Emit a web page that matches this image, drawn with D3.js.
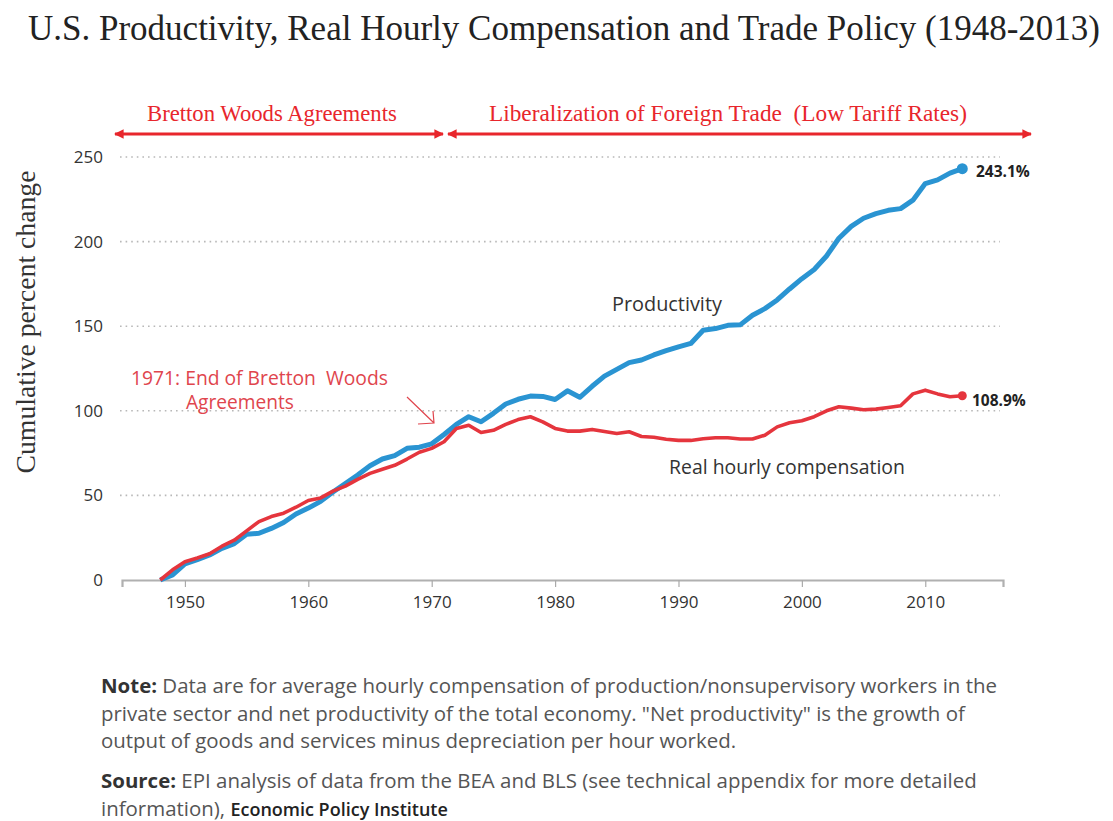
<!DOCTYPE html>
<html><head><meta charset="utf-8">
<script src="https://cdn.jsdelivr.net/npm/d3@7"></script>
<style>body{margin:0;background:#fff}svg{display:block}</style>
</head><body>
<svg id="c" width="1113" height="821"></svg>
<script>
const years = d3.range(1948, 2014);
const productivity = [0,3,9.5,12,14.8,18.7,21.5,27,27.6,30.5,34,39,42.5,46.5,52,57,62,67.5,71.5,73.5,77.8,78.5,80.5,86,92,96.5,
 93.5,98.5,104,106.8,108.7,108.5,106.7,111.8,108,114.5,120.5,124.5,128.5,130,133,135.5,137.8,139.8,147.6,148.6,150.5,150.8,
 156.5,160.4,165.5,172,178.1,183.5,191.5,202,209,213.8,216.5,218.5,219.5,224.5,234.3,236.5,240.5,243.1];
const compensation = [0,6,10.8,13,15.5,20,23.5,29,34.5,37.5,39.5,43,47,48.5,52.5,55.5,59.5,63,65.5,67.8,71.5,75.5,77.8,81.7,89.5,91.5,
 87.2,88.5,92,94.8,96.5,93.5,89.6,88,88,89,87.8,86.6,87.6,84.8,84.4,83.2,82.5,82.5,83.5,84.1,84.1,83.3,83.3,85.6,90.5,92.9,94.1,
 96.5,100,102.4,101.6,100.6,101,102,103,110,112.2,110,108.3,108.9];
const yTicks = [0,50,100,150,200,250];
const xTicks = [1950,1960,1970,1980,1990,2000,2010];
const endLabels = ["243.1%","108.9%"];

const svg = d3.select("#c");
const sans = "'Open Sans', 'Noto Sans', sans-serif";
const serif = "'Liberation Serif', 'DejaVu Serif', serif";

const x = d3.scaleLinear().domain([1944.9, 2016.3]).range([122, 1003]);
const y = d3.scaleLinear().domain([0, 250]).range([580, 157]);

function fit(sel, target) {
  const n = sel.node();
  const fs = parseFloat(sel.attr("font-size"));
  const w = n.getComputedTextLength();
  const nf = fs * target / w;
  sel.attr("font-size", nf.toFixed(2));
  return nf;
}

// Title
const title = svg.append("text").attr("x", 28).attr("y", 40).attr("font-family", serif)
  .attr("font-size", 30).attr("fill", "#222")
  .text("U.S. Productivity, Real Hourly Compensation and Trade Policy (1948-2013)");
fit(title, 1072);

// Red period annotations
const red = "#e8262c";
const defs = svg.append("defs");
["s","e"].forEach(k => {
  defs.append("marker").attr("id", "ah" + k).attr("viewBox", "0 0 10 10").attr("refX", 9).attr("refY", 5)
    .attr("markerWidth", 3.2).attr("markerHeight", 3.2).attr("orient", "auto-start-reverse")
    .append("path").attr("d", "M0,0L10,5L0,10z").attr("fill", red);
});
svg.append("line").attr("x1", 115).attr("x2", 443).attr("y1", 134).attr("y2", 134)
  .attr("stroke", red).attr("stroke-width", 3)
  .attr("marker-start", "url(#ahs)").attr("marker-end", "url(#ahe)");
svg.append("line").attr("x1", 448).attr("x2", 1031).attr("y1", 134).attr("y2", 134)
  .attr("stroke", red).attr("stroke-width", 3)
  .attr("marker-start", "url(#ahs)").attr("marker-end", "url(#ahe)");
const bw = svg.append("text").attr("x", 147).attr("y", 121).attr("font-family", serif)
  .attr("font-size", 19).attr("fill", red).text("Bretton Woods Agreements");
fit(bw, 250);
const lib = svg.append("text").attr("x", 489).attr("y", 121).attr("font-family", serif)
  .attr("font-size", 19).attr("fill", red).attr("xml:space", "preserve")
  .text("Liberalization of Foreign Trade  (Low Tariff Rates)");
fit(lib, 478);

// Gridlines
svg.append("g").selectAll("line").data(yTicks.filter(d => d > 0)).join("line")
  .attr("x1", 120).attr("x2", 1000).attr("y1", d => y(d)).attr("y2", d => y(d))
  .attr("stroke", "#b8b8b8").attr("stroke-width", 1.6).attr("stroke-dasharray", "1.6,4");

// Y tick labels
svg.append("g").selectAll("text").data(yTicks).join("text")
  .attr("x", 103).attr("y", d => y(d)).attr("dy", "0.35em").attr("text-anchor", "end")
  .attr("font-family", sans).attr("font-size", 17).attr("fill", "#333").text(d => d);

// X axis
const xa = svg.append("g").attr("transform", "translate(0,580)")
  .call(d3.axisBottom(x).tickValues(xTicks).tickFormat(d3.format("d")).tickSize(7).tickPadding(9));
xa.select(".domain").attr("stroke", "#b0b0b0").attr("stroke-width", 2.2);
xa.selectAll(".tick line").attr("stroke", "#aaa").attr("stroke-width", 1.2);
xa.selectAll(".tick text").attr("font-family", sans).attr("font-size", 17).attr("fill", "#333");

// Y axis title
const yt = svg.append("text").attr("transform", "translate(35,322) rotate(-90)").attr("text-anchor", "middle")
  .attr("font-family", serif).attr("font-size", 22).attr("fill", "#333").text("Cumulative percent change");
fit(yt, 303);

// Lines
const line = d3.line().x((d, i) => x(years[i])).y(d => y(d));
const blue = "#2a94d2", redL = "#e5353d";
svg.append("path").datum(productivity).attr("d", line).attr("fill", "none")
  .attr("stroke", blue).attr("stroke-width", 5).attr("stroke-linejoin", "round");
svg.append("path").datum(compensation).attr("d", line).attr("fill", "none")
  .attr("stroke", redL).attr("stroke-width", 3.6).attr("stroke-linejoin", "round");
svg.append("circle").attr("cx", x(2013)).attr("cy", y(productivity[65])).attr("r", 5.5).attr("fill", blue);
svg.append("circle").attr("cx", x(2013)).attr("cy", y(compensation[65])).attr("r", 4.5).attr("fill", redL);

// End labels
svg.append("text").attr("x", 976).attr("y", y(productivity[65]) + 3).attr("dy", "0.35em")
  .attr("font-family", sans).attr("font-weight", "bold").attr("font-size", 15.5).attr("fill", "#222").text(endLabels[0]);
svg.append("text").attr("x", 972).attr("y", y(compensation[65]) + 5).attr("dy", "0.35em")
  .attr("font-family", sans).attr("font-weight", "bold").attr("font-size", 15.5).attr("fill", "#222").text(endLabels[1]);

// Series labels
const pl = svg.append("text").attr("x", 612).attr("y", 311).attr("font-family", sans)
  .attr("font-size", 17).attr("fill", "#333").text("Productivity");
fit(pl, 110);
const cl = svg.append("text").attr("x", 669).attr("y", 474).attr("font-family", sans)
  .attr("font-size", 17).attr("fill", "#333").text("Real hourly compensation");
fit(cl, 236);

// 1971 annotation
const annRed = "#e0454d";
const a1 = svg.append("text").attr("x", 131).attr("y", 385).attr("font-family", sans)
  .attr("font-size", 17).attr("fill", annRed).attr("xml:space", "preserve").text("1971: End of Bretton  Woods");
fit(a1, 257);
const a2 = svg.append("text").attr("x", 186).attr("y", 409).attr("font-family", sans)
  .attr("font-size", 17).attr("fill", annRed).text("Agreements");
fit(a2, 108);
svg.append("path").attr("d", "M407,397L434,423M418,424L434,423L433,411")
  .attr("fill", "none").attr("stroke", annRed).attr("stroke-width", 1.2);

// Notes
const notes = [
  {y: 693, parts: [["Note:", true], [" Data are for average hourly compensation of production/nonsupervisory workers in the", false]]},
  {y: 721, parts: [["private sector and net productivity of the total economy. \"Net productivity\" is the growth of", false]]},
  {y: 748, parts: [["output of goods and services minus depreciation per hour worked.", false]]},
  {y: 788, parts: [["Source:", true], [" EPI analysis of data from the BEA and BLS (see technical appendix for more detailed", false]]},
  {y: 816, parts: [["information), ", false], ["Economic Policy Institute", "s"]]}
];
const noteTexts = notes.map(n => {
  const t = svg.append("text").attr("x", 101).attr("y", n.y).attr("font-family", sans)
    .attr("font-size", 17.5).attr("fill", "#555");
  n.parts.forEach(p => {
    const ts = t.append("tspan").attr("xml:space", "preserve").text(p[0]);
    if (p[1] === true) ts.attr("font-weight", "bold").attr("fill", "#333");
    if (p[1] === "s") ts.attr("font-size", "0.88em").attr("fill", "#222").attr("font-weight", 600);
  });
  return t;
});
const nfs = fit(noteTexts[0], 897);
noteTexts.forEach(t => t.attr("font-size", nfs.toFixed(2)));
</script>
</body></html>
